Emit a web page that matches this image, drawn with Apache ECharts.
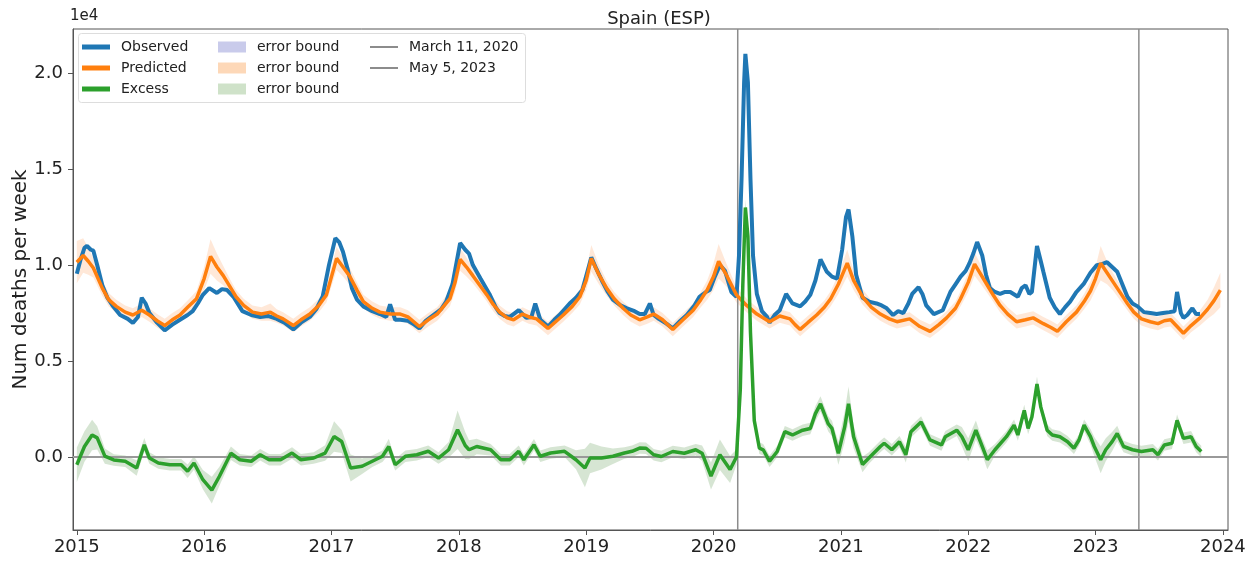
<!DOCTYPE html>
<html>
<head>
<meta charset="UTF-8">
<title>Spain (ESP)</title>
<script src="https://cdn.jsdelivr.net/npm/echarts@6/dist/echarts.min.js"></script>
<style>
    html, body { margin: 0; padding: 0; background: #fff; }
    #container { width: 1259px; height: 561px; }
</style>
</head>
<body>
<div id="container"></div>
<script>
    // weekly deaths as [decimal year, value]
    var obsPts = [
        [2015.00,9550],[2015.03,10300],[2015.06,10900],[2015.08,11000],[2015.11,10800],[2015.13,10750],[2015.16,10000],
        [2015.20,8950],[2015.24,8300],[2015.28,7900],[2015.34,7400],[2015.40,7200],[2015.44,6980],[2015.48,7300],
        [2015.51,8300],[2015.54,8000],[2015.57,7500],[2015.63,7000],[2015.69,6600],[2015.75,6900],[2015.81,7150],
        [2015.87,7400],[2015.91,7600],[2015.95,8000],[2015.99,8450],[2016.04,8800],[2016.10,8550],[2016.14,8750],
        [2016.18,8700],[2016.23,8350],[2016.30,7600],[2016.37,7400],[2016.44,7300],[2016.50,7350],[2016.57,7200],
        [2016.63,7000],[2016.70,6650],[2016.76,7000],[2016.83,7300],[2016.88,7700],[2016.93,8350],[2016.98,10000],
        [2017.03,11400],[2017.06,11200],[2017.09,10700],[2017.13,9700],[2017.16,8800],[2017.20,8200],[2017.25,7850],
        [2017.32,7600],[2017.38,7450],[2017.43,7300],[2017.46,7950],[2017.50,7150],[2017.54,7150],[2017.60,7100],
        [2017.65,6900],[2017.69,6700],[2017.74,7100],[2017.80,7400],[2017.86,7700],[2017.90,8100],[2017.95,9000],
        [2018.01,11150],[2018.05,10800],[2018.08,10600],[2018.11,10000],[2018.17,9300],[2018.24,8500],[2018.29,7800],
        [2018.32,7500],[2018.36,7350],[2018.40,7300],[2018.44,7500],[2018.47,7650],[2018.53,7250],[2018.57,7300],
        [2018.60,8000],[2018.64,7150],[2018.70,6800],[2018.75,7150],[2018.79,7400],[2018.83,7700],[2018.87,8000],
        [2018.92,8300],[2018.97,8700],[2019.04,10400],[2019.08,9800],[2019.13,9100],[2019.17,8600],[2019.21,8200],
        [2019.27,7900],[2019.32,7750],[2019.38,7600],[2019.42,7450],[2019.46,7450],[2019.50,8000],[2019.53,7400],
        [2019.57,7200],[2019.63,6950],[2019.68,6700],[2019.74,7100],[2019.79,7400],[2019.85,7900],[2019.89,8350],
        [2019.94,8600],[2019.97,8700],[2020.01,9400],[2020.05,10000],[2020.09,9700],[2020.14,8600],[2020.18,8350],
        [2020.20,10500],[2020.22,14500],[2020.24,19500],[2020.25,21000],[2020.27,19500],[2020.29,14500],[2020.31,10500],
        [2020.34,8500],[2020.38,7600],[2020.42,7300],[2020.44,7000],[2020.48,7400],[2020.52,7650],[2020.57,8500],
        [2020.62,8000],[2020.68,7850],[2020.72,8100],[2020.76,8450],[2020.80,9200],[2020.84,10300],[2020.89,9650],
        [2020.93,9400],[2020.97,9300],[2021.01,10800],[2021.04,12500],[2021.06,12900],[2021.09,11500],[2021.12,9500],
        [2021.17,8300],[2021.22,8100],[2021.28,8000],[2021.32,7900],[2021.36,7750],[2021.41,7400],[2021.45,7600],
        [2021.49,7500],[2021.53,8000],[2021.56,8500],[2021.61,8850],[2021.64,8500],[2021.67,7900],[2021.73,7450],
        [2021.80,7650],[2021.86,8600],[2021.90,9000],[2021.94,9400],[2021.98,9700],[2022.01,10100],[2022.04,10600],
        [2022.07,11200],[2022.11,10500],[2022.14,9500],[2022.17,8800],[2022.21,8600],[2022.25,8500],[2022.29,8600],
        [2022.33,8600],[2022.39,8350],[2022.42,8800],[2022.45,8950],[2022.48,8500],[2022.50,8600],[2022.52,9800],
        [2022.54,11000],[2022.57,10200],[2022.59,9650],[2022.64,8300],[2022.68,7800],[2022.72,7450],[2022.76,7800],
        [2022.80,8100],[2022.85,8600],[2022.91,9050],[2022.96,9600],[2023.01,10000],[2023.05,10050],[2023.09,10150],
        [2023.13,9900],[2023.17,9650],[2023.21,9000],[2023.25,8350],[2023.29,8000],[2023.33,7850],[2023.38,7550],
        [2023.43,7500],[2023.48,7450],[2023.53,7500],[2023.58,7550],[2023.62,7600],[2023.64,8600],[2023.67,7500],
        [2023.69,7250],[2023.72,7400],[2023.76,7750],[2023.79,7450],[2023.82,7450]
    ];

    // [decimal year, predicted, half width of error bound]
    var predPts = [
        [2015.00,10150,1100],[2015.05,10500,900],[2015.09,10200,700],[2015.13,9850,500],[2015.20,8800,400],
        [2015.25,8200,350],[2015.31,7850,350],[2015.38,7550,350],[2015.44,7400,350],[2015.51,7650,350],
        [2015.57,7400,350],[2015.63,7100,350],[2015.69,6850,350],[2015.75,7150,350],[2015.81,7400,350],
        [2015.87,7800,350],[2015.94,8250,400],[2016.00,9300,600],[2016.05,10450,900],[2016.10,9900,700],
        [2016.15,9450,500],[2016.20,8900,400],[2016.25,8350,350],[2016.31,7900,350],[2016.38,7550,350],
        [2016.45,7450,350],[2016.52,7550,450],[2016.57,7350,350],[2016.62,7200,350],[2016.70,6850,350],
        [2016.76,7150,350],[2016.83,7450,350],[2016.90,7900,350],[2016.96,8450,400],[2017.00,9400,500],
        [2017.04,10350,600],[2017.09,9900,500],[2017.14,9450,450],[2017.20,8700,400],[2017.25,8100,350],
        [2017.32,7750,350],[2017.38,7550,350],[2017.46,7450,350],[2017.54,7450,350],[2017.60,7300,350],
        [2017.69,6800,350],[2017.76,7150,350],[2017.83,7450,350],[2017.93,8250,400],[2017.97,9100,500],
        [2018.01,10300,600],[2018.06,9900,500],[2018.11,9450,400],[2018.17,8900,350],[2018.22,8450,350],
        [2018.27,7950,350],[2018.32,7550,350],[2018.38,7250,350],[2018.43,7150,350],[2018.50,7450,350],
        [2018.55,7300,350],[2018.61,7200,350],[2018.70,6700,350],[2018.76,7050,350],[2018.82,7400,350],
        [2018.89,7850,350],[2018.95,8350,400],[2019.00,9200,500],[2019.04,10350,700],[2019.10,9500,500],
        [2019.16,8800,400],[2019.22,8250,350],[2019.29,7750,350],[2019.35,7400,350],[2019.42,7150,350],
        [2019.48,7300,350],[2019.53,7450,350],[2019.60,7150,350],[2019.68,6650,350],[2019.76,7150,350],
        [2019.84,7650,350],[2019.90,8200,400],[2019.95,8700,500],[2020.00,9400,700],[2020.04,10200,900],
        [2020.10,9500,600],[2020.18,8450,400],[2020.26,7900,350],[2020.34,7450,350],[2020.44,7050,350],
        [2020.52,7350,350],[2020.60,7200,350],[2020.64,6900,350],[2020.68,6650,350],[2020.74,7000,350],
        [2020.81,7400,350],[2020.87,7800,350],[2020.92,8250,400],[2020.98,9000,500],[2021.05,10100,700],
        [2021.10,9200,500],[2021.17,8350,400],[2021.24,7800,350],[2021.31,7450,350],[2021.38,7200,350],
        [2021.44,7050,350],[2021.54,7200,350],[2021.62,6800,350],[2021.70,6550,350],[2021.77,6900,350],
        [2021.83,7250,350],[2021.90,7750,350],[2021.94,8250,400],[2022.00,9100,500],[2022.05,10050,600],
        [2022.10,9500,500],[2022.15,8950,400],[2022.20,8400,350],[2022.25,7900,350],[2022.31,7450,350],
        [2022.38,7050,350],[2022.45,7150,350],[2022.51,7250,350],[2022.59,6950,350],[2022.65,6750,350],
        [2022.70,6550,350],[2022.77,7050,350],[2022.85,7550,350],[2022.91,8100,400],[2022.96,8650,500],
        [2023.00,9300,600],[2023.04,10100,900],[2023.09,9600,600],[2023.14,9100,450],[2023.20,8500,400],
        [2023.25,8000,350],[2023.30,7550,350],[2023.36,7200,350],[2023.43,7050,350],[2023.49,6950,350],
        [2023.54,7100,350],[2023.59,7150,350],[2023.64,6800,350],[2023.69,6450,350],[2023.75,6850,350],
        [2023.82,7250,400],[2023.88,7700,500],[2023.93,8150,700],[2023.98,8700,900]
    ];

    // [decimal year, excess, half width of error bound]
    var excessPts = [
        [2015.00,-400,900],[2015.06,550,800],[2015.12,1150,800],[2015.16,1000,600],[2015.22,50,400],
        [2015.29,-150,300],[2015.38,-220,300],[2015.47,-570,400],[2015.53,640,350],[2015.57,-50,300],
        [2015.64,-310,300],[2015.73,-400,300],[2015.82,-400,300],[2015.87,-740,350],[2015.92,-310,350],
        [2015.99,-1180,500],[2016.06,-1720,700],[2016.12,-1000,500],[2016.21,200,350],[2016.28,-140,300],
        [2016.37,-220,300],[2016.44,120,300],[2016.51,-140,300],[2016.60,-140,300],[2016.69,210,300],
        [2016.76,-140,300],[2016.86,-50,300],[2016.95,210,400],[2017.02,1070,800],[2017.08,810,600],
        [2017.15,-570,700],[2017.24,-480,400],[2017.32,-220,300],[2017.40,40,300],[2017.45,550,400],
        [2017.50,-400,300],[2017.58,40,300],[2017.67,120,300],[2017.76,300,300],[2017.84,-50,300],
        [2017.92,380,400],[2017.99,1420,1000],[2018.05,600,700],[2018.08,380,500],[2018.14,550,400],
        [2018.25,380,300],[2018.33,-140,300],[2018.40,-140,300],[2018.47,300,300],[2018.51,-140,300],
        [2018.59,640,300],[2018.64,40,300],[2018.72,210,300],[2018.83,300,300],[2018.92,-140,500],
        [2018.99,-570,1000],[2019.03,-50,800],[2019.12,-50,600],[2019.21,40,400],[2019.30,210,300],
        [2019.36,300,300],[2019.42,470,300],[2019.47,460,300],[2019.53,120,300],[2019.59,30,300],
        [2019.68,290,300],[2019.77,200,300],[2019.86,380,300],[2019.91,200,400],[2019.98,-990,700],
        [2020.05,120,800],[2020.13,-650,700],[2020.18,0,400],[2020.21,3500,400],[2020.23,9000,400],
        [2020.25,13000,400],[2020.27,11500,400],[2020.29,6500,400],[2020.32,1900,300],[2020.36,460,300],
        [2020.39,380,300],[2020.44,-220,300],[2020.50,290,300],[2020.56,1320,300],[2020.62,1150,300],
        [2020.70,1400,300],[2020.76,1490,300],[2020.80,2260,400],[2020.84,2770,400],[2020.90,1740,400],
        [2020.93,1490,400],[2020.98,200,600],[2021.03,1570,800],[2021.06,2770,900],[2021.10,1060,600],
        [2021.17,-390,400],[2021.22,-50,300],[2021.31,550,300],[2021.34,720,300],[2021.40,380,300],
        [2021.46,800,300],[2021.51,120,400],[2021.55,1320,300],[2021.63,1830,300],[2021.70,890,300],
        [2021.79,630,300],[2021.82,1060,300],[2021.91,1400,300],[2021.95,1060,500],[2022.00,380,600],
        [2022.06,1400,500],[2022.10,720,400],[2022.15,-140,500],[2022.21,380,300],[2022.30,1060,300],
        [2022.36,1660,300],[2022.39,1150,300],[2022.44,2430,300],[2022.47,1490,300],[2022.50,2090,300],
        [2022.54,3800,400],[2022.57,2600,300],[2022.62,1400,300],[2022.66,1150,300],[2022.72,1060,300],
        [2022.78,800,300],[2022.83,460,300],[2022.87,890,300],[2022.91,1660,300],[2022.96,1060,400],
        [2022.99,550,500],[2023.04,-140,700],[2023.08,380,600],[2023.13,800,500],[2023.17,1230,400],
        [2023.22,550,300],[2023.29,380,300],[2023.36,290,300],[2023.45,380,300],[2023.49,120,300],
        [2023.54,630,300],[2023.60,720,300],[2023.64,1915,300],[2023.69,975,300],[2023.75,1060,300],
        [2023.79,550,300],[2023.83,290,300]
    ];

    var eventDates = [2020.19, 2023.34];
    var eventNames = ['March 11, 2020', 'May 5, 2023'];
    var yearTicks = [2015, 2016, 2017, 2018, 2019, 2020, 2021, 2022, 2023, 2024];
    var yTicks = [0, 5000, 10000, 15000, 20000];

    var X_MIN = 2014.97, X_MAX = 2024.04, Y_MIN = -3800, Y_MAX = 22300;
    var FONT = 'DejaVu Sans';
    var legendText = {obsBand: 'error bound', predBand: 'error bound', exBand: 'error bound'};

    function line(pts) { return pts.map(function (p) { return [p[0], p[1]]; }); }

    // one filled polygon between value-err and value+err, placed through the axes
    function bandSeries(name, pts, color) {
        return {
            name: name, type: 'custom', silent: true, z: 1,
            itemStyle: {color: color},
            data: pts.map(function (p) { return [p[0], p[1] - p[2], p[1] + p[2]]; }),
            encode: {x: 0, y: [1, 2]},
            renderItem: function (params, api) {
                if (params.dataIndex !== 0) return null;
                var up = [], down = [];
                pts.forEach(function (p) {
                    up.push(api.coord([p[0], p[1] + p[2]]));
                    down.push(api.coord([p[0], p[1] - p[2]]));
                });
                return {type: 'polygon', shape: {points: up.concat(down.reverse())}, style: {fill: color}};
            }
        };
    }

    var series = [];
    series.push({name: 'obsBand', type: 'line', data: [], symbol: 'none', itemStyle: {color: '#c9cbeb'}});
    series.push(bandSeries('predBand', predPts, 'rgba(255,165,100,0.25)'));
    series.push(bandSeries('exBand', excessPts, 'rgba(120,170,110,0.30)'));
    eventNames.forEach(function (n, i) {
        var s = {
            name: n, type: 'line', symbol: 'none', silent: true, z: 1,
            data: [[eventDates[i], Y_MIN], [eventDates[i], Y_MAX]],
            lineStyle: {color: '#8c8c8c', width: 1.5}, itemStyle: {color: '#8c8c8c'}
        };
        if (i === 0) {
            s.markLine = {
                silent: true, symbol: 'none', label: {show: false},
                lineStyle: {color: '#999', width: 2, type: 'solid'},
                data: [{yAxis: 0}]
            };
        }
        series.push(s);
    });
    series.push({name: 'Observed', type: 'line', data: obsPts, symbol: 'none', z: 3,
        lineStyle: {color: '#1f77b4', width: 4}, itemStyle: {color: '#1f77b4'}});
    series.push({name: 'Predicted', type: 'line', data: line(predPts), symbol: 'none', z: 4,
        lineStyle: {color: '#ff7f0e', width: 3.5}, itemStyle: {color: '#ff7f0e'}});
    series.push({name: 'Excess', type: 'line', data: line(excessPts), symbol: 'none', z: 5,
        lineStyle: {color: '#2ca02c', width: 3.5}, itemStyle: {color: '#2ca02c'}});

    var legendBase = {
        orient: 'vertical', top: 39, padding: 0, itemGap: 5, selectedMode: false, z: 10,
        icon: 'rect', itemWidth: 28,
        formatter: function (n) { return legendText[n] || n; },
        textStyle: {fontFamily: FONT, fontSize: 14, lineHeight: 16, color: '#222', padding: [0, 0, 0, 6]}
    };

    var myChart = echarts.init(document.getElementById('container'));
    myChart.setOption({
        animation: false,
        title: {
            text: 'Spain (ESP)', left: 654, top: 5, textAlign: 'center',
            textStyle: {fontFamily: FONT, fontSize: 18, fontWeight: 'normal', color: '#222'}
        },
        grid: {left: 73, right: 31, top: 29, bottom: 31, show: true, borderColor: '#555', borderWidth: 1,
            outerBoundsMode: 'none'},
        legend: [
            Object.assign({}, legendBase, {left: 82, itemHeight: 5,
                data: ['Observed', 'Predicted', 'Excess']}),
            Object.assign({}, legendBase, {left: 218, itemHeight: 11,
                data: [
                    {name: 'obsBand', itemStyle: {color: '#c9cbeb'}},
                    {name: 'predBand', itemStyle: {color: '#fdd8b8'}},
                    {name: 'exBand', itemStyle: {color: '#cfe2c9'}}
                ]}),
            Object.assign({}, legendBase, {left: 370, itemHeight: 2,
                data: eventNames.map(function (n) { return {name: n, itemStyle: {color: '#8c8c8c'}}; })})
        ],
        graphic: [
            {type: 'rect', left: 78, top: 33, z: 9, silent: true,
                shape: {width: 447, height: 69, r: 3},
                style: {fill: 'rgba(255,255,255,0.85)', stroke: '#ddd', lineWidth: 1}},
            {type: 'text', left: 70, top: 9, silent: true,
                style: {text: '1e4', fontFamily: FONT, fontSize: 15, fill: '#222'}}
        ],
        xAxis: {
            type: 'value', min: X_MIN, max: X_MAX,
            axisLine: {onZero: false, lineStyle: {color: '#555'}},
            axisTick: {show: true, length: 5, customValues: yearTicks, lineStyle: {color: '#555'}},
            axisLabel: {customValues: yearTicks, margin: 8, fontFamily: FONT, fontSize: 18, color: '#222',
                formatter: function (v) { return String(Math.round(v)); }},
            splitLine: {show: false}
        },
        yAxis: {
            type: 'value', min: Y_MIN, max: Y_MAX,
            name: 'Num deaths per week', nameLocation: 'middle', nameGap: 42, nameRotate: 90,
            nameMoveOverlap: false,
            nameTextStyle: {fontFamily: FONT, fontSize: 20, color: '#222'},
            axisLine: {show: true, onZero: false, lineStyle: {color: '#555'}},
            axisTick: {show: true, length: 5, customValues: yTicks, lineStyle: {color: '#555'}},
            axisLabel: {customValues: yTicks, margin: 10, fontFamily: FONT, fontSize: 18, color: '#222',
                formatter: function (v) { return (v / 10000).toFixed(1); }},
            splitLine: {show: false}
        },
        series: series
    });
</script>
</body>
</html>
